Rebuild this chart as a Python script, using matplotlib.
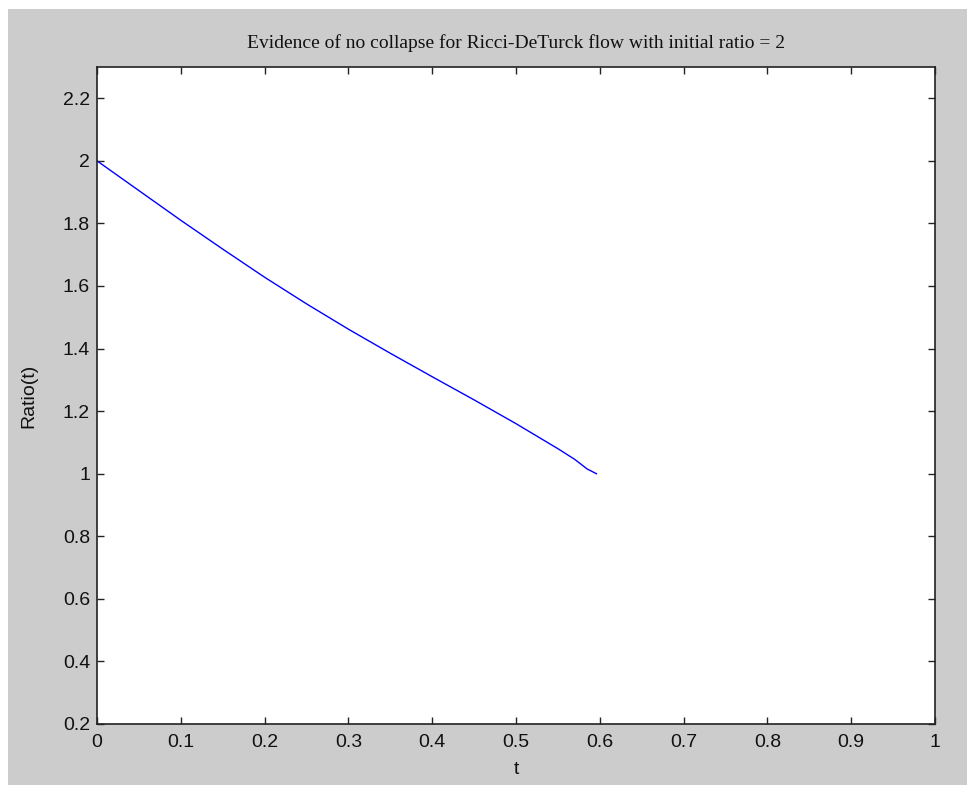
import matplotlib
matplotlib.use("Agg")
import matplotlib.pyplot as plt
from matplotlib.patches import Rectangle

# Data
t_values = [0.0, 0.05, 0.10, 0.15, 0.20, 0.25, 0.30, 0.35, 0.40, 0.45, 0.50, 0.55, 0.57, 0.585, 0.596]
ratio_values = [2.0, 1.905, 1.810, 1.718, 1.628, 1.543, 1.462, 1.385, 1.310, 1.236, 1.160, 1.080, 1.046, 1.015, 1.0]

x_ticks = [0, 0.1, 0.2, 0.3, 0.4, 0.5, 0.6, 0.7, 0.8, 0.9, 1]
x_ticklabels = ["0", "0.1", "0.2", "0.3", "0.4", "0.5", "0.6", "0.7", "0.8", "0.9", "1"]
y_ticks = [0.2, 0.4, 0.6, 0.8, 1.0, 1.2, 1.4, 1.6, 1.8, 2.0, 2.2]
y_ticklabels = ["0.2", "0.4", "0.6", "0.8", "1", "1.2", "1.4", "1.6", "1.8", "2", "2.2"]

title = "Evidence of no collapse for Ricci-DeTurck flow with initial ratio = 2"
xlabel = "t"
ylabel = "Ratio(t)"

W, H = 967, 785
fig = plt.figure(figsize=(W / 100, H / 100), dpi=100, facecolor="white")
fig.patches.append(Rectangle((8 / W, 0), 1 - 8 / W, 1 - 9 / H, transform=fig.transFigure,
                             facecolor="#cccccc", edgecolor="none", zorder=-10))

left, right, bottom, top = 97 / W, 935 / W, (H - 724) / H, (H - 67) / H
ax = fig.add_axes([left, bottom, right - left, top - bottom])
ax.set_facecolor("white")
ax.plot(t_values, ratio_values, color=(0, 0, 1), lw=1.0)

ax.set_xlim(0, 1)
ax.set_ylim(0.2, 2.3)
ax.set_xticks(x_ticks)
ax.set_xticklabels(x_ticklabels)
ax.set_yticks(y_ticks)
ax.set_yticklabels(y_ticklabels)

sans = ["Liberation Sans", "DejaVu Sans"]
for lab in ax.get_xticklabels() + ax.get_yticklabels():
    lab.set_family(sans)
    lab.set_fontsize(14)
    lab.set_color("#111111")

ax.tick_params(axis="both", direction="in", top=True, right=True, length=5, width=1.0, color="#222222")
ax.tick_params(axis="x", pad=7)
ax.tick_params(axis="y", pad=5)
for s in ax.spines.values():
    s.set_linewidth(1.2)
    s.set_color("#222222")

ax.set_title(title, family=["Liberation Serif", "DejaVu Serif"], fontsize=14, pad=13.7, color="#111111")
ax.set_xlabel(xlabel, family=sans, fontsize=14, color="#111111", va="center")
ax.set_ylabel(ylabel, family=sans, fontsize=14, color="#111111", va="center")
ax.xaxis.set_label_coords(0.5, (724 - 769) / 657)
ax.yaxis.set_label_coords((29 - 97) / 838, 0.5)

fig.savefig("out.png", dpi=100, facecolor=fig.get_facecolor())
